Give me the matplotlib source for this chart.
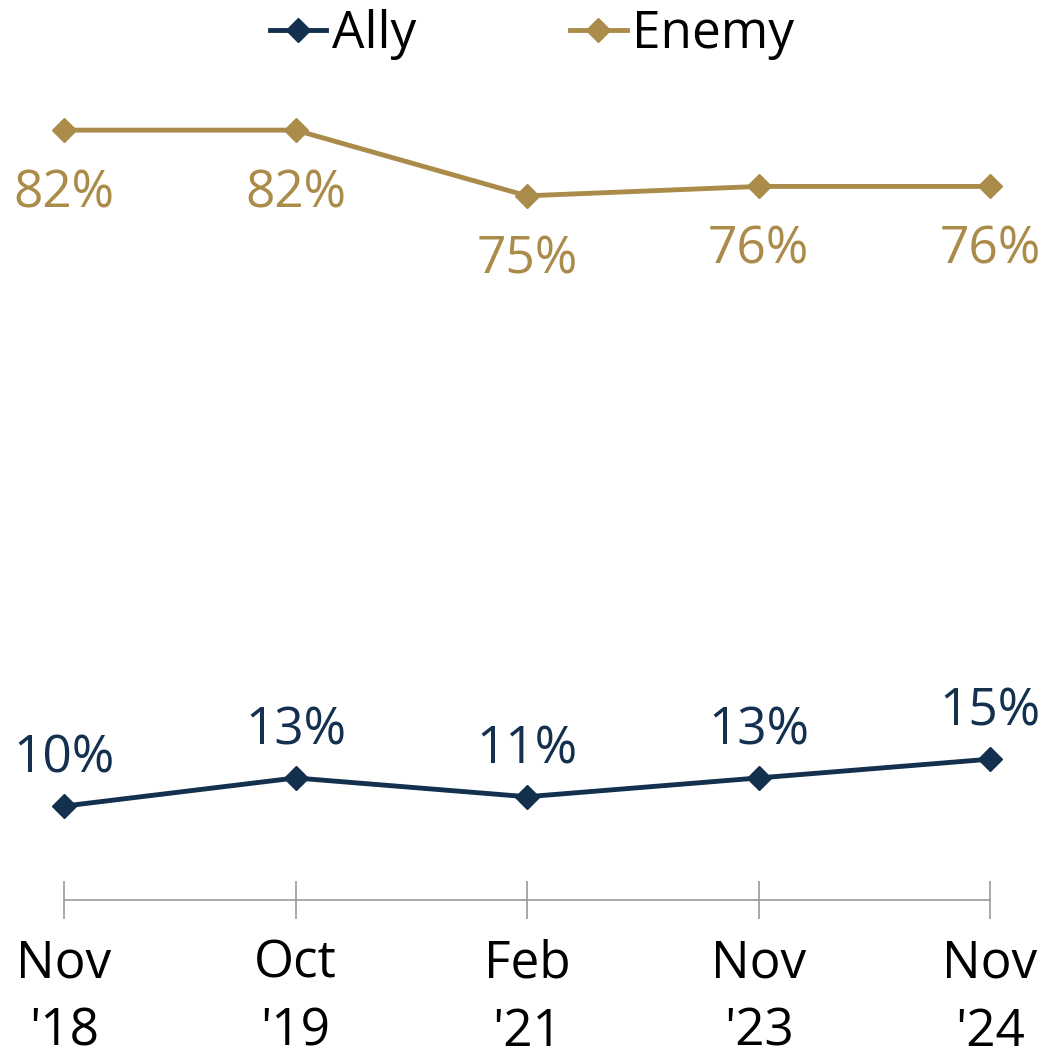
import matplotlib
matplotlib.use("Agg")
import matplotlib.pyplot as plt

# data
periods = ["Nov\n'18", "Oct\n'19", "Feb\n'21", "Nov\n'23", "Nov\n'24"]
ally = [10, 13, 11, 13, 15]
enemy = [82, 82, 75, 76, 76]

NAVY = "#14304F"
GOLD = "#AA8B4A"
plt.rcParams["font.family"] = ["Open Sans", "DejaVu Sans"]

fig = plt.figure(figsize=(10.49, 10.59), dpi=100)
# axes bottom at y=0 pixel row 900, top at row 80
ax = fig.add_axes([0, 159 / 1059, 1, (900 - 80) / 1059])

x = list(range(len(periods)))
ax.plot(x, ally, color=NAVY, lw=3.5, marker="D", ms=12, label="Ally", zorder=3)
ax.plot(x, enemy, color=GOLD, lw=3.5, marker="D", ms=12, label="Enemy", zorder=3)

for xi, v in zip(x, ally):
    ax.annotate(f"{v}%", (xi, v), xytext=(0, 34), textcoords="offset points",
                ha="center", va="center", fontsize=37, color=NAVY)
for xi, v in zip(x, enemy):
    ax.annotate(f"{v}%", (xi, v), xytext=(0, -46), textcoords="offset points",
                ha="center", va="center", fontsize=37, color=GOLD)

px = (990 - 64) / 4
ax.set_xlim(-64 / px, 4 + (1049 - 990) / px)
ax.set_ylim(0, (900 - 80) / ((806 - 130) / 72))

ax.set_xticks(x)
ax.set_xticklabels(periods, fontsize=37, linespacing=1.45)
ax.set_yticks([])
for s in ("top", "right", "left"):
    ax.spines[s].set_visible(False)
ax.spines["bottom"].set_color("#999999")
ax.spines["bottom"].set_linewidth(1.2)
ax.spines["bottom"].set_bounds(0, 4)
ax.tick_params(axis="x", direction="inout", length=27, width=1.2,
               color="#999999", pad=14)

leg = ax.legend(loc="upper center", bbox_to_anchor=(0.507, 1 + 12 / 1059),
                bbox_transform=fig.transFigure, ncol=2,
                frameon=False, fontsize=37, handlelength=1.1, handletextpad=0.1,
                columnspacing=3.0, borderaxespad=0)

fig.savefig("out.png", dpi=100)
